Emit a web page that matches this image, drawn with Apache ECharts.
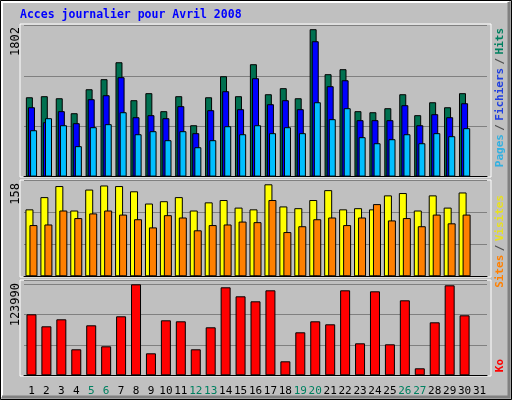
<!DOCTYPE html>
<html><head><meta charset="utf-8">
<script src="https://cdn.jsdelivr.net/npm/echarts@6/dist/echarts.min.js"></script>
<style>html,body{margin:0;padding:0;background:#c0c0c0}#c{width:512px;height:400px}</style>
</head><body><div id="c"></div>
<script>
var days = ['1','2','3','4','5','6','7','8','9','10','11','12','13','14','15','16','17','18','19','20','21','22','23','24','25','26','27','28','29','30','31'];
var weekends = ['5','6','12','13','19','20','26','27'];
var hits = [970,983,958,775,1068,1191,1398,934,1020,800,983,628,970,1227,983,1374,1007,1081,958,1802,1252,1313,800,787,836,1007,751,909,848,1020,null];
var fichiers = [848,665,800,653,946,995,1215,726,751,714,861,531,812,1044,824,1203,885,934,824,1655,1105,1178,690,690,690,873,628,763,726,897,null];
var pages = [567,714,628,372,604,641,787,518,555,445,555,359,445,616,518,628,531,604,531,909,702,836,482,408,457,518,408,531,494,592,null];
var visites = [115,136,155,113,149,156,155,146,125,129,136,113,127,131,118,115,158,120,117,131,148,115,117,115,139,143,113,139,118,144,null];
var sites = [88,89,113,100,108,113,106,98,84,105,101,79,88,89,94,93,131,76,86,98,101,88,101,124,96,100,86,106,91,106,null];
var ko = [83115,66764,76302,35426,68127,39514,80390,123990,29976,74939,73577,35426,65401,119902,107640,100827,115815,19075,58588,73577,69489,115815,43601,114452,42238,102189,9538,72214,122627,81752,null];
var maxLabels = ['1802','158','123990'];

var chart = echarts.init(document.getElementById('c'), null, {renderer:'canvas'});
var mono = 'DejaVu Sans Mono';
var panels = [
  {top:24, h:153, btop:25.6, bh:151, max:1846, interval:615.33},
  {top:180, h:97, btop:180, bh:96.3, max:165.4, interval:55.13},
  {top:280, h:96, btop:280, bh:95.3, max:129850, interval:41557}
];
var grids = [], xA = [], yA = [];
panels.forEach(function(p,i){
  grids.push({left:20, top:p.top, width:471, height:p.h, show:true, borderColor:'#fff', borderWidth:1, backgroundColor:'transparent'});
  grids.push({left:24, top:p.btop, width:463, height:p.bh});
  xA.push({gridIndex:2*i, type:'category', data:days, show:false});
  yA.push({gridIndex:2*i, type:'value', show:false});
  xA.push({gridIndex:2*i+1, type:'category', data:days,
    axisLine:{show:true, lineStyle:{color:'#000'}}, axisTick:{show:false},
    axisLabel:{show:i===2, interval:0, margin:10, fontFamily:mono, fontSize:11,
      formatter:function(v){return weekends.indexOf(v)>=0?'{w|'+v+'}':'{n|'+v+'}';},
      rich:{w:{color:'#008060',fontFamily:mono,fontSize:11},n:{color:'#000',fontFamily:mono,fontSize:11}}}});
  yA.push({gridIndex:2*i+1, type:'value', min:0, max:p.max, interval:p.interval,
    axisLabel:{show:false}, axisLine:{show:false}, axisTick:{show:false},
    splitLine:{show:true, lineStyle:{color:'#808080', width:1}}});
});
function bar(name, data, gi, color, w, gap){
  return {name:name, type:'bar', xAxisIndex:gi, yAxisIndex:gi, data:data, barWidth:w, barGap:gap,
    itemStyle:{color:color, borderColor:'#000', borderWidth:1}, animation:false};
}
var rt = Math.PI/2;
function vtext(x, y, rich, text){
  return {type:'text', x:x, y:y, rotation:rt, style:{text:text, rich:rich, font:'bold 11px '+mono, align:'right', verticalAlign:'middle'}};
}
chart.setOption({
  animation:false,
  grid:grids, xAxis:xA, yAxis:yA,
  series:[
    bar('Hits', hits, 1, '#007050', 7, '-70%'),
    bar('Fichiers', fichiers, 1, '#0000ff', 7, '-70%'),
    bar('Pages', pages, 1, '#00bfff', 7, '-70%'),
    bar('Visites', visites, 3, '#ffff00', 8, '-50%'),
    bar('Sites', sites, 3, '#ff8000', 8, '-50%'),
    bar('Ko', ko, 5, '#ff0000', 10, '0%')
  ],
  graphic:[
    {type:'rect', shape:{x:0.5,y:0.5,width:511,height:399}, style:{fill:'none', stroke:'#000', lineWidth:1}},
    {type:'polyline', shape:{points:[[2,397],[2,2],[509,2]]}, style:{stroke:'#fff', lineWidth:2}},
    {type:'polyline', shape:{points:[[509,2],[509,397],[2,397]]}, style:{stroke:'#808080', lineWidth:3}},
    {type:'text', x:20, y:9, style:{text:'Acces journalier pour Avril 2008', fill:'#0000ff', font:'bold 11.5px '+mono}},
    {type:'text', x:16, y:27, rotation:rt, style:{text:maxLabels[0], fill:'#000', font:'12px '+mono, align:'right', verticalAlign:'middle'}},
    {type:'text', x:16, y:183, rotation:rt, style:{text:maxLabels[1], fill:'#000', font:'12px '+mono, align:'right', verticalAlign:'middle'}},
    {type:'text', x:16, y:283, rotation:rt, style:{text:maxLabels[2], fill:'#000', font:'12px '+mono, align:'right', verticalAlign:'middle'}},
    {type:'text', x:500, y:28, rotation:rt, style:{text:'{p|Pages} {s|/} {f|Fichiers} {s|/} {h|Hits}', align:'right', verticalAlign:'middle',
      rich:{p:{fill:'#33b0e0',font:'bold 11px '+mono},f:{fill:'#2040e0',font:'bold 11px '+mono},h:{fill:'#008060',font:'bold 11px '+mono},s:{fill:'#505050',font:'bold 11px '+mono}}}},
    {type:'text', x:500, y:195, rotation:rt, style:{text:'{a|Sites} {s|/} {b|Visites}', align:'right', verticalAlign:'middle',
      rich:{a:{fill:'#ff8000',font:'bold 11px '+mono},b:{fill:'#e8e020',font:'bold 11px '+mono},s:{fill:'#505050',font:'bold 11px '+mono}}}},
    {type:'text', x:500, y:359, rotation:rt, style:{text:'{k|Ko}', align:'right', verticalAlign:'middle',
      rich:{k:{fill:'#ff0000',font:'bold 11px '+mono}}}}
  ]
});
</script></body></html>
